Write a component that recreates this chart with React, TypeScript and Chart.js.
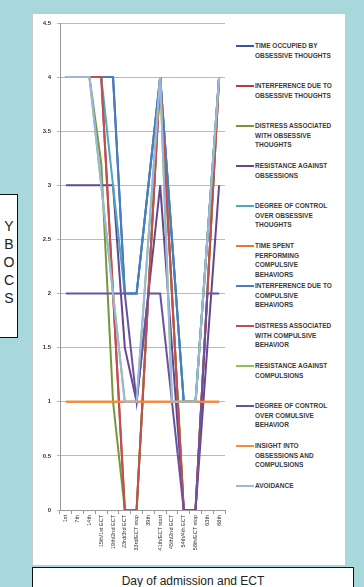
import React, { useEffect, useRef } from "react";
import { Chart, registerables } from "chart.js";

Chart.register(...registerables);

const categories = [
  "1st",
  "7th",
  "14th",
  "15th/1st ECT",
  "19th/2nd ECT",
  "23rd/3rd ECT",
  "33rd/ECT stop",
  "39th",
  "41th/ECT start",
  "45th/2nd ECT",
  "54th/4th ECT",
  "58th/ECT stop",
  "63th",
  "68th",
];

const timeOccupied = [4, 4, 4, 4, 4, 2, 2, 3, 4, 2.5, 1, 1, 2.5, 4];
const interferenceObs = [4, 4, 4, 4, 2, 0, 0, 2, 4, 2, 0, 0, 2, 4];
const distressObs = [4, 4, 4, 3.2, 1, 0, 0, 2, 4, 2, 0, 0, 2, 4];
const resistanceObs = [3, 3, 3, 3, 3, 1.5, 1, 2, 3, 1.5, 0, 0, 1.5, 3];
const controlObs = [4, 4, 4, 4, 3, 2, 2, 3, 4, 2.5, 1, 1, 2.5, 4];
const timeSpentComp = [1, 1, 1, 1, 1, 1, 1, 1, 1, 1, 1, 1, 1, 1];
const interferenceComp = [4, 4, 4, 4, 4, 2, 2, 3, 4, 2.5, 1, 1, 2.5, 4];
const distressComp = [4, 4, 4, 4, 2, 0, 0, 2, 4, 2, 0, 0, 2, 4];
const resistanceComp = [4, 4, 4, 3, 2, 1, 1, 2.5, 4, 1, 1, 1, 2.5, 4];
const controlComp = [2, 2, 2, 2, 2, 2, 1, 2, 2, 1, 0, 0, 2, 2];
const insight = [1, 1, 1, 1, 1, 1, 1, 1, 1, 1, 1, 1, 1, 1];
const avoidance = [4, 4, 4, 3, 2, 1, 1, 2.5, 4, 1, 1, 1, 2.5, 4];

const yTicks = [0, 0.5, 1, 1.5, 2, 2.5, 3, 3.5, 4, 4.5];

const seriesNames = [
  ["TIME OCCUPIED BY", "OBSESSIVE THOUGHTS"],
  ["INTERFERENCE  DUE TO", "OBSESSIVE THOUGHTS"],
  ["DISTRESS ASSOCIATED", "WITH OBSESSIVE", "THOUGHTS"],
  ["RESISTANCE AGAINST", "OBSESSIONS"],
  ["DEGREE OF CONTROL", "OVER OBSESSIVE", "THOUGHTS"],
  ["TIME SPENT", "PERFORMING", "COMPULSIVE", "BEHAVIORS"],
  ["INTERFERENCE DUE TO", "COMPULSIVE", "BEHAVIORS"],
  ["DISTRESS ASSOCIATED", "WITH COMPULSIVE", "BEHAVIOR"],
  ["RESISTANCE AGAINST", "COMPULSIONS"],
  ["DEGREE OF CONTROL", "OVER COMULSIVE", "BEHAVIOR"],
  ["INSIGHT INTO", "OBSESSIONS AND", "COMPULSIONS"],
  ["AVOIDANCE"],
];

const seriesValues = [
  timeOccupied,
  interferenceObs,
  distressObs,
  resistanceObs,
  controlObs,
  timeSpentComp,
  interferenceComp,
  distressComp,
  resistanceComp,
  controlComp,
  insight,
  avoidance,
];

const seriesColors = [
  "#34589a",
  "#b83c3a",
  "#77963c",
  "#64478f",
  "#4aa8c2",
  "#e8772e",
  "#4a7cc0",
  "#c0504d",
  "#93c04e",
  "#6a52a0",
  "#f68b3a",
  "#9cb7df",
];

export default function App() {
  const canvasRef = useRef<HTMLCanvasElement | null>(null);

  useEffect(() => {
    const canvas = canvasRef.current;
    if (!canvas) return;
    const chart = new Chart(canvas, {
      type: "line",
      data: {
        labels: categories,
        datasets: seriesValues.map((vals, i) => ({
          label: seriesNames[i].join(" "),
          data: vals,
          borderColor: seriesColors[i],
          backgroundColor: seriesColors[i],
          borderWidth: 2,
          pointRadius: 0,
          tension: 0,
          fill: false,
          order: seriesValues.length - i,
        })),
      },
      options: {
        responsive: false,
        animation: false,
        devicePixelRatio: 1,
        layout: { padding: { top: 10, right: 7, left: 0, bottom: 0 } },
        plugins: {
          legend: { display: false },
          tooltip: { enabled: false },
        },
        scales: {
          x: {
            type: "category",
            offset: true,
            grid: {
              offset: true,
              drawOnChartArea: false,
              drawTicks: true,
              tickLength: 4,
              color: "#999999",
            },
            border: { color: "#999999", width: 1 },
            ticks: {
              autoSkip: false,
              minRotation: 90,
              maxRotation: 90,
              padding: 1,
              color: "#333333",
              font: { size: 5.5, family: "Liberation Sans, Arial, sans-serif" },
            },
            afterFit: (scale: any) => {
              scale.height = 55;
            },
          },
          y: {
            min: 0,
            max: 4.5,
            afterBuildTicks: (scale: any) => {
              scale.ticks = yTicks.map((v) => ({ value: v }));
            },
            grid: {
              color: "#b9b9b9",
              lineWidth: 1,
              drawTicks: true,
              tickLength: 3,
            },
            border: { color: "#999999", width: 1 },
            ticks: {
              padding: 6,
              color: "#333333",
              callback: (v: any) => String(v),
              font: { size: 6, weight: "bold", family: "Liberation Sans, Arial, sans-serif" },
            },
            afterFit: (scale: any) => {
              scale.width = 28;
            },
          },
        },
      },
    });
    return () => chart.destroy();
  }, []);

  const legendTop = 46;
  const legendStep = 40;

  return (
    <div
      style={{
        position: "fixed",
        left: 0,
        top: 0,
        width: 364,
        height: 587,
        background: "#a8d8dc",
        overflow: "hidden",
        fontFamily: "Liberation Sans, Arial, sans-serif",
      }}
    >
      <div
        style={{
          position: "absolute",
          left: -2,
          top: 194,
          width: 18,
          height: 142,
          border: "1px solid #111",
          background: "#ffffff",
        }}
      >
        {["Y", "B", "O", "C", "S"].map((ch, i) => (
          <div
            key={i}
            style={{
              position: "absolute",
              left: 0,
              width: 20,
              top: 22 + i * 18,
              height: 18,
              lineHeight: "18px",
              textAlign: "center",
              fontSize: 14,
              color: "#222",
            }}
          >
            {ch}
          </div>
        ))}
      </div>
      <div
        style={{
          position: "absolute",
          left: 32,
          top: 13,
          width: 312,
          height: 551,
          background: "#ffffff",
          border: "1px solid #c9c9c9",
        }}
      />
      <canvas
        ref={canvasRef}
        width={200}
        height={552}
        style={{ position: "absolute", left: 32, top: 13, width: 200, height: 552 }}
      />
      {seriesNames.map((lines, i) => {
        const y = legendTop + i * legendStep;
        return (
          <div key={i}>
            <div
              style={{
                position: "absolute",
                left: 236,
                top: y - 1,
                width: 18,
                height: 2,
                background: seriesColors[i],
              }}
            />
            {lines.map((t, j) => (
              <div
                key={j}
                style={{
                  position: "absolute",
                  left: 255,
                  top: y - 5 + j * 9.5,
                  height: 10,
                  lineHeight: "10px",
                  fontSize: 6.5,
                  fontWeight: "bold",
                  color: "#3a3a3a",
                  whiteSpace: "nowrap",
                }}
              >
                {t}
              </div>
            ))}
          </div>
        );
      })}
      <div
        style={{
          position: "absolute",
          left: 32,
          top: 567,
          width: 320,
          height: 30,
          border: "1px solid #111",
          background: "#ffffff",
        }}
      >
        <div
          style={{
            position: "absolute",
            left: 0,
            right: 0,
            top: 6,
            textAlign: "center",
            fontSize: 12,
            lineHeight: "14px",
            color: "#222",
          }}
        >
          Day of admission and ECT
        </div>
      </div>
    </div>
  );
}
